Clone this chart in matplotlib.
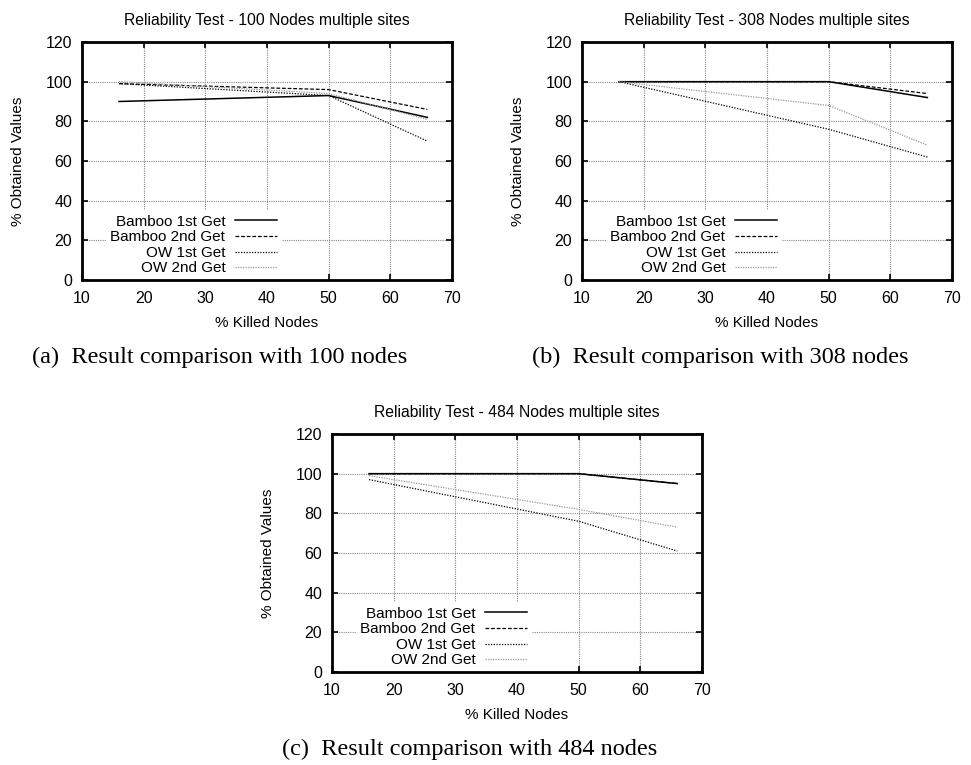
import matplotlib
matplotlib.use("Agg")
import matplotlib.pyplot as plt

plt.rcParams['font.family'] = ['Liberation Sans', 'DejaVu Sans']

# killed node percentages
killed = [16, 50, 66]

series_names = ["Bamboo 1st Get", "Bamboo 2nd Get", "OW 1st Get", "OW 2nd Get"]

# % obtained values per panel
n100_bamboo1 = [90, 93, 82]
n100_bamboo2 = [99, 96, 86]
n100_ow1 = [99, 93, 70]
n100_ow2 = [100, 94, 81]

n308_bamboo1 = [100, 100, 92]
n308_bamboo2 = [100, 100, 94]
n308_ow1 = [100, 76, 62]
n308_ow2 = [100, 88, 68]

n484_bamboo1 = [100, 100, 95]
n484_bamboo2 = [100, 100, 95]
n484_ow1 = [97, 76, 61]
n484_ow2 = [99, 82, 73]

panels = [
    ("Reliability Test - 100 Nodes multiple sites", "(a)  Result comparison with 100 nodes",
     [n100_bamboo1, n100_bamboo2, n100_ow1, n100_ow2]),
    ("Reliability Test - 308 Nodes multiple sites", "(b)  Result comparison with 308 nodes",
     [n308_bamboo1, n308_bamboo2, n308_ow1, n308_ow2]),
    ("Reliability Test - 484 Nodes multiple sites", "(c)  Result comparison with 484 nodes",
     [n484_bamboo1, n484_bamboo2, n484_ow1, n484_ow2]),
]

# line styles similar to gnuplot's postscript terminal
styles = [
    dict(color="black", linestyle="-", linewidth=1.1),
    dict(color="black", linestyle=(0, (3, 1.5)), linewidth=0.9),
    dict(color="black", linestyle=(0, (1, 1.2)), linewidth=0.9),
    dict(color="#999999", linestyle=(0, (1, 1)), linewidth=0.9),
]

W, H = 971, 765
fig = plt.figure(figsize=(W / 100, H / 100), dpi=100)

# axes boxes in pixels: left, top, right, bottom
boxes = [(82, 42, 452, 280), (582, 42, 952, 280), (332, 434, 702, 672)]

for (title, caption, data), (l, t, r, b) in zip(panels, boxes):
    ax = fig.add_axes([l / W, 1 - b / H, (r - l) / W, (b - t) / H])
    for vals, name, st in zip(data, series_names, styles):
        ax.plot(killed, vals, label=name, **st)

    ax.set_xlim(10, 70)
    ax.set_ylim(0, 120)
    ax.set_xticks(range(10, 71, 10))
    ax.set_yticks(range(0, 121, 20))
    ax.tick_params(direction="in", length=4, width=1.2, top=True, right=True,
                   labelsize=11.5)
    ax.tick_params(axis="y", pad=7)
    ax.tick_params(axis="x", pad=8)
    for sp in ax.spines.values():
        sp.set_linewidth(2)
        sp.set_zorder(6)
    ax.grid(True, color="#888888", linestyle=(0, (1, 1)), linewidth=0.8)
    ax.set_axisbelow(True)

    ax.set_title(title, fontsize=11.3, pad=12)
    ax.set_xlabel("% Killed Nodes", fontsize=11, labelpad=7)
    ax.set_ylabel("% Obtained Values", fontsize=11, labelpad=15)

    leg = ax.legend(loc="lower right", bbox_to_anchor=(0.54, 0.0), markerfirst=False,
                    frameon=True, fancybox=False, framealpha=1, edgecolor="none",
                    fontsize=11, handlelength=2.75, handletextpad=0.65,
                    labelspacing=0.1, borderpad=0.3, borderaxespad=0)
    leg.get_frame().set_linewidth(0)
    leg.set_zorder(5)

    fig.text(((l + r) / 2 - 47) / W, 1 - (b + 77) / H, caption, ha="center", va="center",
             fontsize=17.5, family="Liberation Serif")

fig.savefig("out.png", dpi=100)
